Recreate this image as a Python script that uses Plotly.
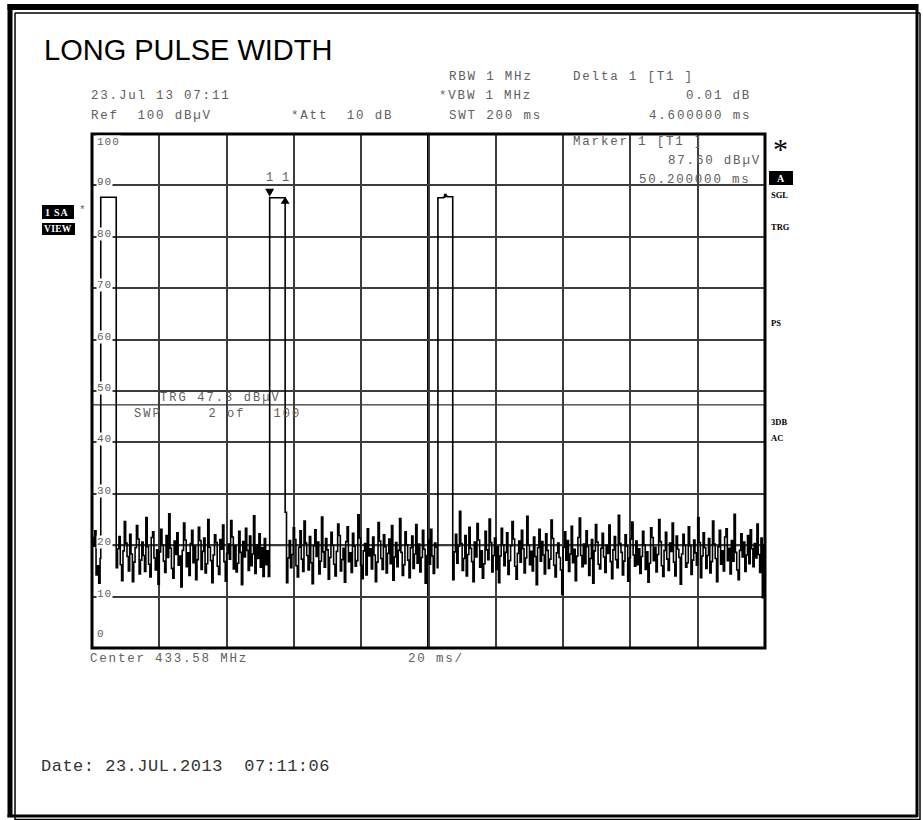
import numpy as np
import plotly.graph_objects as go

# ---------------------------------------------------------------- figure geometry
FIG_W, FIG_H = 923, 820
M_L, M_R, M_T, M_B = 92, 158, 134, 172
PLOT_W = FIG_W - M_L - M_R
PLOT_H = FIG_H - M_T - M_B

# ---------------------------------------------------------------- sweep settings
X_START_MS = -2.6          # pre-trigger offset of the zero-span sweep
SPAN_MS = 200.0            # SWT 200 ms
X_END_MS = X_START_MS + SPAN_MS
DIV_MS = 20.0              # 20 ms/div
SAMPLE_MS = 0.4
REF_DBUV = 100.0
DB_PER_DIV = 10.0

y_tick_vals = [0, 10, 20, 30, 40, 50, 60, 70, 80, 90, 100]
y_tick_text = ["0", "10", "20", "30", "40", "50", "60", "70", "80", "90", "100"]

trigger_dbuv = 47.3
marker1_ms = 50.2
marker1_dbuv = 87.60
delta1_ms = 4.6
delta1_db = 0.01

# ---------------------------------------------------------------- trace data
pulse_on_ms = [0.0, 50.2, 100.2]
pulse_off_ms = [4.6, 54.8, 104.6]
pulse_top_dbuv = [
    [87.7, 87.7, 87.7, 87.7, 87.7, 87.7, 87.7, 87.7, 87.7, 87.7, 87.7],
    [87.6, 87.6, 87.6, 87.6, 87.6, 87.6, 87.6, 87.6, 87.6, 87.6, 87.61],
    [87.6, 87.6, 87.6, 87.6, 87.7, 88.2, 87.9, 87.8, 87.8, 87.8, 87.8],
]

noise_start_ms = [-2.6, 4.6, 54.8, 104.6]

noise_a = [21.5, 19.8, 22.8, 14.2, 16.0, 12.6, 17.4]

noise_b = [
    15.6, 19.3, 21.7, 16.2, 13.1, 18.9, 24.6, 20.4, 17.8, 15.0, 22.1, 18.3, 12.9, 16.7, 19.5, 23.8, 21.2, 14.4, 17.1, 20.6,
    18.0, 14.9, 25.4, 19.7, 16.3, 13.8, 21.5, 22.6, 17.5, 15.2, 19.1, 12.4, 18.7, 23.1, 20.0, 16.9, 14.7, 21.9, 17.6, 26.1,
    19.4, 15.5, 13.6, 20.8, 18.2, 22.4, 16.1, 17.9, 11.9, 19.0, 24.3, 21.0, 15.8, 18.5, 14.1, 20.3, 22.9, 16.6, 19.8, 13.3,
    17.2, 23.5, 20.9, 15.3, 18.8, 21.4, 14.6, 16.4, 25.0, 19.6, 17.0, 12.7, 18.1, 22.0, 20.5, 15.9, 14.3, 21.1, 19.2, 23.9,
    16.8, 13.0, 18.4, 20.2, 17.3, 24.8, 21.6, 15.4, 19.9, 14.8, 16.5, 22.7, 18.6, 12.3, 20.7, 17.7, 23.3, 19.0, 15.1, 21.8,
    16.0, 18.3, 25.7, 14.5, 20.1, 17.4, 22.2, 15.7, 19.5, 13.9, 21.3, 16.2, 18.9, 13.9,
]

noise_c = [
    26.4, 12.7, 17.5, 20.9, 15.6, 18.2, 23.4, 21.1, 16.0, 13.8, 19.6, 22.8, 17.3, 14.9, 24.7, 20.4, 18.0, 15.2, 21.7, 16.6,
    12.5, 19.9, 23.0, 17.8, 20.6, 14.4, 16.9, 25.5, 18.7, 15.7, 21.3, 19.1, 13.4, 17.6, 22.5, 20.0, 16.3, 14.0, 18.8, 24.1,
    21.9, 15.0, 17.2, 19.4, 12.8, 20.7, 23.6, 16.8, 18.5, 14.7, 22.3, 19.8, 15.9, 17.0, 25.9, 21.4, 16.1, 13.5, 18.9, 20.3,
    14.2, 23.2, 17.9, 19.3, 15.4, 21.6, 18.1, 12.9, 16.7, 24.4, 20.8, 17.4, 15.3, 22.0, 19.7, 14.6, 18.4, 21.2, 16.4, 23.8,
    13.2, 17.7, 20.5, 15.8, 19.0, 25.2, 18.6, 14.1, 16.2, 22.6, 20.1, 17.1, 13.7, 19.5, 21.8, 15.5, 18.3, 24.0, 16.5, 20.2,
    14.8, 17.6, 22.9, 19.2, 12.6, 18.0, 21.0, 16.3, 23.1, 17.9, 14.5, 20.4, 19.6, 15.6,
]

noise_d = [
    13.3, 18.7, 22.1, 16.5, 19.8, 26.6, 20.3, 15.1, 17.4, 21.9, 14.0, 18.2, 23.5, 19.4, 16.8, 12.9, 20.6, 17.7, 24.2, 21.0,
    15.7, 18.9, 13.6, 16.4, 22.7, 19.1, 17.2, 25.1, 20.5, 14.8, 18.0, 21.4, 15.3, 19.7, 12.7, 17.9, 23.3, 20.1, 16.0, 18.6,
    22.4, 14.3, 17.0, 19.9, 24.6, 21.2, 15.9, 13.4, 18.4, 20.8, 16.7, 22.9, 19.3, 14.6, 17.5, 25.6, 20.0, 16.2, 18.8, 15.0,
    21.6, 17.8, 12.3, 19.5, 23.1, 16.9, 20.7, 18.1, 14.4, 22.2, 19.0, 15.5, 17.3, 24.9, 21.3, 16.1, 13.8, 18.5, 20.4, 17.6,
    15.2, 10.4, 19.6, 22.6, 17.1, 20.9, 14.9, 18.3, 23.7, 16.6, 19.2, 13.1, 17.9, 21.5, 25.3, 18.0, 15.8, 20.2, 16.4, 22.8,
    19.7, 14.1, 17.4, 21.1, 12.6, 18.9, 24.0, 20.6, 16.3, 15.4, 19.4, 22.3, 17.7, 14.7, 20.0, 18.4, 23.9, 16.8, 13.5, 19.1,
    21.7, 17.2, 15.6, 25.8, 20.3, 18.6, 14.2, 16.9, 22.0, 19.8, 13.0, 17.5, 21.2, 24.5, 18.1, 15.9, 20.8, 16.2, 19.3, 14.5,
    17.8, 22.7, 20.1, 15.3, 18.7, 12.8, 16.5, 23.4, 21.5, 17.0, 19.6, 14.8, 18.2, 25.0, 20.7, 16.0, 13.9, 19.0, 22.5, 17.3,
    15.1, 20.4, 18.8, 24.3, 16.7, 14.0, 21.8, 19.2, 17.6, 12.4, 18.3, 22.1, 20.0, 15.7, 16.6, 23.6, 19.9, 14.3, 17.1, 21.0,
    18.5, 16.1, 25.4, 20.5, 13.7, 17.9, 22.4, 19.5, 15.5, 18.0, 21.3, 14.6, 16.8, 24.7, 20.2, 17.4, 12.9, 19.7, 22.9, 16.3,
    18.9, 15.0, 21.6, 23.2, 17.0, 19.4, 14.4, 20.9, 16.9, 26.0, 18.6, 15.2, 13.3, 19.0, 22.2, 17.7, 20.6, 14.9, 18.1, 21.9,
    16.4, 23.0, 19.3, 15.8, 20.3, 17.5, 24.1, 18.2, 14.7, 21.4, 9.8, 20.1,
]
noise_segments = [noise_a, noise_b, noise_c, noise_d]

# ---------------------------------------------------------------- assemble sweep (sample-and-hold)
trace_x, trace_y = [], []
for i, seg in enumerate(noise_segments):
    seg_end = pulse_on_ms[i] if i < len(pulse_on_ms) else X_END_MS
    for j, v in enumerate(seg):
        t = noise_start_ms[i] + j * SAMPLE_MS
        if t < seg_end - 1e-9:
            trace_x.append(t)
            trace_y.append(v)
    if i < len(pulse_on_ms):
        tops = pulse_top_dbuv[i]
        ts = np.linspace(pulse_on_ms[i], pulse_off_ms[i], len(tops), endpoint=False)
        trace_x.extend(ts.tolist())
        trace_y.extend(tops)
trace_x.append(X_END_MS)
trace_y.append(trace_y[-1])


def px_x(px):
    return (px - M_L) / PLOT_W


def px_y(py):
    return (FIG_H - M_B - py) / PLOT_H


MONO = "Liberation Mono"
GRAY = "#606060"
annotations = []
shapes = []


def text(s, x, y, size=12.5, color=GRAY, anchor="left", spacing=1.8, family=MONO,
         bold=False, bg=None, xref="paper", yref="paper", yshift=0):
    body = s.replace(" ", "\u00a0")
    if bold:
        body = "<b>" + body + "</b>"
    if spacing:
        body = '<span style="letter-spacing:%.2fpx">%s</span>' % (spacing, body)
    ann = dict(text=body, xref=xref, yref=yref,
               x=px_x(x) if xref == "paper" else x,
               y=px_y(y) if yref == "paper" else y,
               xanchor=anchor, yanchor="middle", showarrow=False, yshift=yshift,
               font=dict(family=family, size=size, color=color), borderpad=0)
    if bg:
        ann["bgcolor"] = bg
    annotations.append(ann)


def box(x0, y0, x1, y1, fill="black"):
    shapes.append(dict(type="rect", xref="paper", yref="paper",
                       x0=px_x(x0), x1=px_x(x1), y0=px_y(y1), y1=px_y(y0),
                       fillcolor=fill, line=dict(width=0), layer="above"))


def hline(x0, x1, y, w):
    shapes.append(dict(type="line", xref="paper", yref="paper", x0=px_x(x0), x1=px_x(x1),
                       y0=px_y(y), y1=px_y(y), line=dict(color="black", width=w), layer="above"))


def vline(x, y0, y1, w):
    shapes.append(dict(type="line", xref="paper", yref="paper", x0=px_x(x), x1=px_x(x),
                       y0=px_y(y0), y1=px_y(y1), line=dict(color="black", width=w), layer="above"))


# ---------------------------------------------------------------- page frame (heavy + fine rule)
hline(7.5, 917.5, 7, 6)
vline(10, 4, 817, 5)
hline(7.5, 917.5, 816, 3)
vline(917, 4, 817, 3)
hline(15, 920, 13, 1.5)
vline(15, 13, 820, 1.5)
hline(15, 920, 819.5, 1.5)
vline(920, 13, 820, 1.5)

# ---------------------------------------------------------------- title and header
text("LONG PULSE WIDTH", 43, 50, size=29, color="black", family="Liberation Sans", spacing=0)

text("RBW 1 MHz", 448, 77)
text("Delta 1 [T1 ]", 572, 77)
text("23.Jul 13 07:11", 90, 96)
text("*VBW 1 MHz", 438, 96)
text("0.01 dB", 752, 96, anchor="right")
text("Ref  100 dBµV", 90, 116)
text("*Att  10 dB", 290, 116)
text("SWT 200 ms", 448, 116)
text("4.600000 ms", 752, 116, anchor="right")

# marker readout inside the graticule
text("Marker 1 [T1 ]", 572, 142)
text("%.2f dBµV" % marker1_dbuv, 762, 161, anchor="right")
text("%.6f ms" % marker1_ms, 752, 180, anchor="right")

# trigger / sweep count
text("TRG %.1f dBµV" % trigger_dbuv, 159, 398, size=12, spacing=2.1)
text("SWP     2 of   100", 133, 414, size=12, spacing=2.1)

# below the graticule
text("Center 433.58 MHz", 89, 659)
text("20 ms/", 407, 659)
text("Date: 23.JUL.2013  07:11:06", 40, 766, size=17, color="#333333", spacing=0.5)

# left side badges
box(42, 205, 74, 219)
text("1 SA", 44, 212, size=10, color="white", family="Liberation Serif", bold=True, spacing=0.8)
text("*", 78, 210, size=11, color=GRAY, spacing=0)
box(42, 223, 75, 235)
text("VIEW", 43, 229, size=9.5, color="white", family="Liberation Serif", bold=True, spacing=0.3)

# right side status column
text("*", 780, 148, size=30, color="black", family="Liberation Serif", anchor="center", spacing=0)
box(769, 171, 793, 185)
text("A", 781, 178, size=10, color="white", family="Liberation Serif", bold=True, anchor="center", spacing=0)
for lab, yy in [("SGL", 195), ("TRG", 227), ("PS", 323), ("3DB", 422), ("AC", 438)]:
    text(lab, 770, yy, size=8.5, color="black", family="Liberation Serif", bold=True, spacing=0)

# y scale labels inside the graticule
for v, lab in zip(y_tick_vals, y_tick_text):
    if v == y_tick_vals[-1]:
        shift = -8
    elif v == y_tick_vals[0]:
        shift = 14
    else:
        shift = 3
    text(lab, 96, v, size=11, spacing=1.0, xref="paper", yref="y", yshift=shift, bg="white")

# marker labels
for mx in [marker1_ms, marker1_ms + delta1_ms]:
    annotations.append(dict(text="1", x=mx, y=marker1_dbuv, xref="x", yref="y", showarrow=False,
                            yshift=20, xanchor="center", yanchor="middle",
                            font=dict(family=MONO, size=12, color=GRAY)))

# ---------------------------------------------------------------- graticule extras
x_center_ms = (X_START_MS + X_END_MS) / 2
shapes.append(dict(type="line", xref="x", yref="y domain", x0=x_center_ms, x1=x_center_ms, y0=0, y1=1,
                   line=dict(color="black", width=3), layer="below"))
shapes.append(dict(type="line", xref="x domain", yref="y", x0=0, x1=1, y0=20, y1=20,
                   line=dict(color="#222222", width=2), layer="below"))
shapes.append(dict(type="line", xref="x domain", yref="y", x0=0, x1=1, y0=trigger_dbuv, y1=trigger_dbuv,
                   line=dict(color="black", width=1), layer="below"))
shapes.append(dict(type="rect", xref="x domain", yref="y domain", x0=0, x1=1, y0=0, y1=1,
                   line=dict(color="black", width=3), fillcolor="rgba(0,0,0,0)", layer="above"))

# marker symbols (pixel-sized, anchored at the marker values)
shapes.append(dict(type="path", xref="x", yref="y", xsizemode="pixel", ysizemode="pixel",
                   xanchor=marker1_ms, yanchor=marker1_dbuv,
                   path="M -4.5,9 L 4.5,9 L 0,1 Z", fillcolor="black", line=dict(width=0), layer="above"))
shapes.append(dict(type="path", xref="x", yref="y", xsizemode="pixel", ysizemode="pixel",
                   xanchor=marker1_ms + delta1_ms, yanchor=marker1_dbuv + delta1_db,
                   path="M -4.5,-6 L 4.5,-6 L 0,1 Z", fillcolor="black", line=dict(width=0), layer="above"))

# ---------------------------------------------------------------- figure
fig = go.Figure()
fig.add_trace(go.Scatter(x=trace_x, y=trace_y, mode="lines", line=dict(color="black", width=1.6, shape="hv"),
                         hoverinfo="skip", showlegend=False))

fig.update_layout(
    width=FIG_W, height=FIG_H, autosize=False,
    margin=dict(l=M_L, r=M_R, t=M_T, b=M_B, pad=0, autoexpand=False),
    paper_bgcolor="white", plot_bgcolor="white",
    showlegend=False,
    xaxis=dict(range=[X_START_MS, X_END_MS], tick0=X_START_MS, dtick=DIV_MS, showgrid=True,
               gridcolor="#3c3c3c", gridwidth=2, showticklabels=False, ticks="", zeroline=False,
               showline=False, fixedrange=True),
    yaxis=dict(range=[REF_DBUV - 10 * DB_PER_DIV, REF_DBUV], tick0=0, dtick=DB_PER_DIV, showgrid=True,
               gridcolor="#3c3c3c", gridwidth=2, showticklabels=False, ticks="", zeroline=False,
               showline=False, fixedrange=True),
    annotations=annotations,
    shapes=shapes,
)

fig.write_html("out.html", config={"displayModeBar": False})
